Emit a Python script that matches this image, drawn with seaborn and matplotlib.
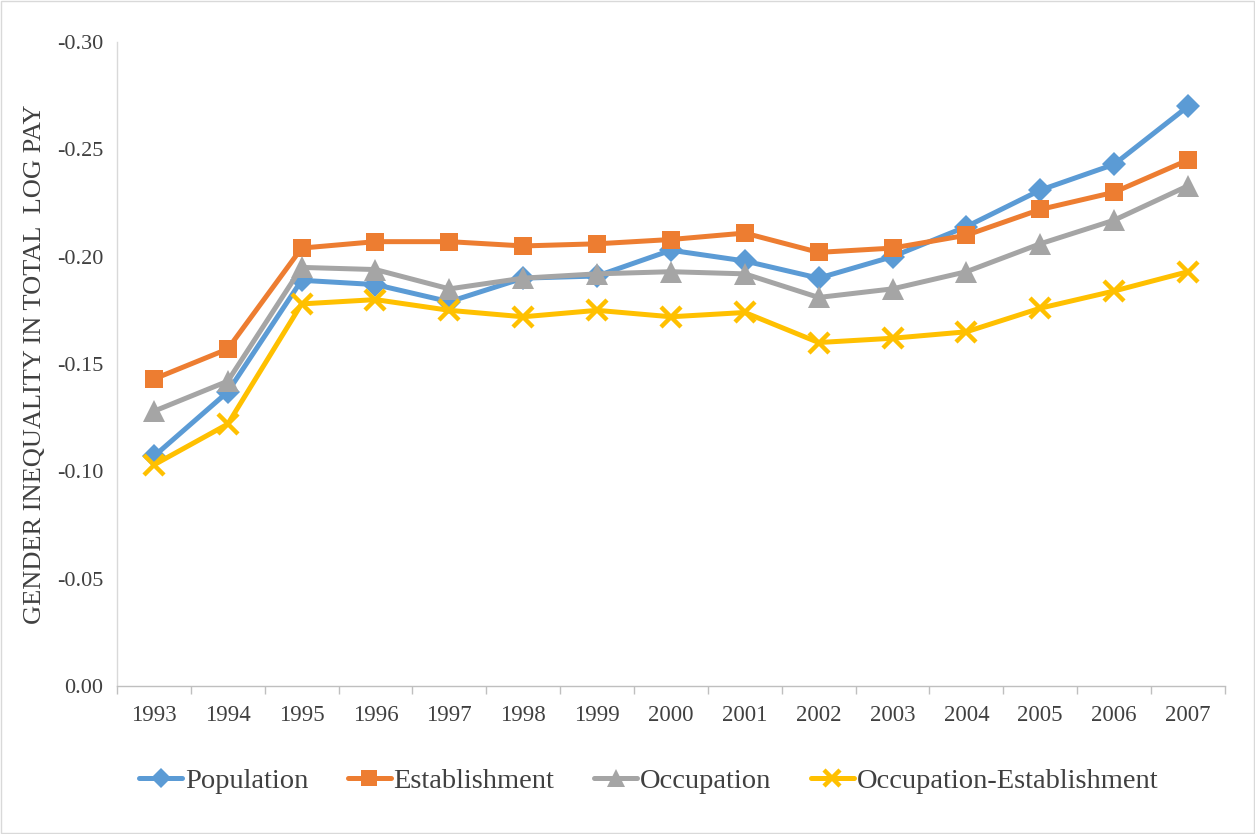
import numpy as np
import pandas as pd
import seaborn as sns
import matplotlib.pyplot as plt
from matplotlib.patches import Rectangle

years = [str(y) for y in range(1993, 2008)]

population = [-0.107, -0.137, -0.189, -0.187, -0.179, -0.190, -0.191, -0.203, -0.198, -0.190,
              -0.200, -0.214, -0.231, -0.243, -0.270]
establishment = [-0.143, -0.157, -0.204, -0.207, -0.207, -0.205, -0.206, -0.208, -0.211, -0.202,
                 -0.204, -0.210, -0.222, -0.230, -0.245]
occupation = [-0.128, -0.142, -0.195, -0.194, -0.185, -0.190, -0.192, -0.193, -0.192, -0.181,
              -0.185, -0.193, -0.206, -0.217, -0.233]
occ_est = [-0.103, -0.122, -0.178, -0.180, -0.175, -0.172, -0.175, -0.172, -0.174, -0.160,
           -0.162, -0.165, -0.176, -0.184, -0.193]

series = {
    'Population': (population, '#5B9BD5', 'D', 12),
    'Establishment': (establishment, '#ED7D31', 's', 13),
    'Occupation': (occupation, '#A5A5A5', '^', 16),
    'Occupation-Establishment': (occ_est, '#FFC000', 'x', 14),
}

sns.set_style('white')
plt.rcParams['font.family'] = ['Liberation Serif', 'DejaVu Serif']

fig = plt.figure(figsize=(12.55, 8.34), dpi=100)
ax = fig.add_axes([0.0932, 0.1775, 0.8828, 0.7721])

x = np.arange(len(years))
for name, (vals, color, mk, ms) in series.items():
    df = pd.DataFrame({'x': x, 'y': vals})
    sns.lineplot(data=df, x='x', y='y', ax=ax, color=color, marker=mk, linewidth=3.6,
                 markersize=ms, markeredgewidth=0 if mk != 'x' else 3.2,
                 markeredgecolor=color, label=name)

ax.set_xlim(-0.5, len(years) - 0.5)
ax.set_ylim(0, -0.30)
yt = np.arange(0, -0.301, -0.05)
ax.set_yticks(yt)
ax.set_yticklabels([f'{v:.2f}' if v < -0.001 else '0.00' for v in yt],
                   fontsize=16, color='#404040')
ax.set_xticks(x)
ax.set_xticklabels(years, fontsize=16.5, color='#404040')
ax.set_xticks(np.arange(-0.5, len(years)), minor=True)
ax.tick_params(axis='x', which='major', length=0, pad=14)
ax.tick_params(axis='x', which='minor', length=6, color='#BFBFBF', width=1, direction='out', bottom=True)
ax.tick_params(axis='y', length=0, pad=10)
ax.set_xlabel('')
ax.set_ylabel('GENDER INEQUALITY IN TOTAL  LOG PAY', fontsize=19, color='#404040', labelpad=8)

for s in ['top', 'right']:
    ax.spines[s].set_visible(False)
ax.spines['left'].set_color('#D9D9D9')
ax.spines['bottom'].set_color('#BFBFBF')
ax.spines['left'].set_linewidth(1)
ax.spines['bottom'].set_linewidth(1)

leg = ax.legend(loc='center', bbox_to_anchor=(0.48, -0.147), ncol=4, frameon=False,
                fontsize=20.5, handlelength=1.5, columnspacing=1.4, handletextpad=0.1,
                markerscale=0.85)
for t in leg.get_texts():
    t.set_color('#404040')

fig.patches.append(Rectangle((0.001, 0.001), 0.998, 0.998, transform=fig.transFigure,
                             fill=False, edgecolor='#D9D9D9', linewidth=1))

fig.savefig('out.png', dpi=100)
